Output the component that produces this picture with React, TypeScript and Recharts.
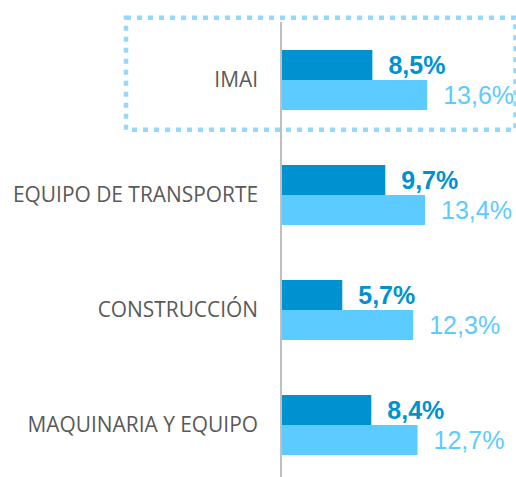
import React from "react";
import { BarChart, Bar, XAxis, YAxis, LabelList } from "recharts";

const categories = ["IMAI", "EQUIPO DE TRANSPORTE", "CONSTRUCCIÓN", "MAQUINARIA Y EQUIPO"];
const seriesA = [8.5, 9.7, 5.7, 8.4];
const seriesB = [13.6, 13.4, 12.3, 12.7];

const data = categories.map((c, i) => ({ name: c, a: seriesA[i], b: seriesB[i] }));

const DARK = "#0092D0";
const LIGHT = "#5CCBFF";
const fmt = (v: number) => v.toFixed(1).replace(".", ",") + "%";

export default function App() {
  return (
    <div style={{ position: "absolute", left: 0, top: 0, width: 516, height: 477, overflow: "hidden", background: "#fff" }}>
      <BarChart
        width={516}
        height={482}
        data={data}
        layout="vertical"
        margin={{ top: 22, right: 20, bottom: 0, left: 0 }}
        barGap={0}
      >
        <XAxis type="number" domain={[0, 20]} hide />
        <YAxis
          type="category"
          dataKey="name"
          width={281}
          axisLine={{ stroke: "#BFBFBF", strokeWidth: 2 }}
          tickLine={false}
          tickSize={0}
          tickMargin={23}
          tick={{ fill: "#595959", fontSize: 20.9, fontFamily: "Open Sans" }}
        />
        <Bar dataKey="a" fill={DARK} barSize={30} isAnimationActive={false}>
          <LabelList
            dataKey="a"
            position="right"
            offset={16}
            formatter={fmt}
            style={{ fill: DARK, fontSize: 25, fontFamily: "Liberation Sans", fontWeight: "bold" }}
          />
        </Bar>
        <Bar dataKey="b" fill={LIGHT} barSize={30} isAnimationActive={false}>
          <LabelList
            dataKey="b"
            position="right"
            offset={16}
            formatter={fmt}
            style={{ fill: LIGHT, fontSize: 25, fontFamily: "Liberation Sans" }}
          />
        </Bar>
      </BarChart>
      <svg width={516} height={477} style={{ position: "absolute", left: 0, top: 0, pointerEvents: "none" }}>
        <rect
          x={126}
          y={17.8}
          width={389.5}
          height={112}
          fill="none"
          stroke="#96D8FC"
          strokeWidth={4.5}
          strokeDasharray="5 6"
        />
      </svg>
    </div>
  );
}
